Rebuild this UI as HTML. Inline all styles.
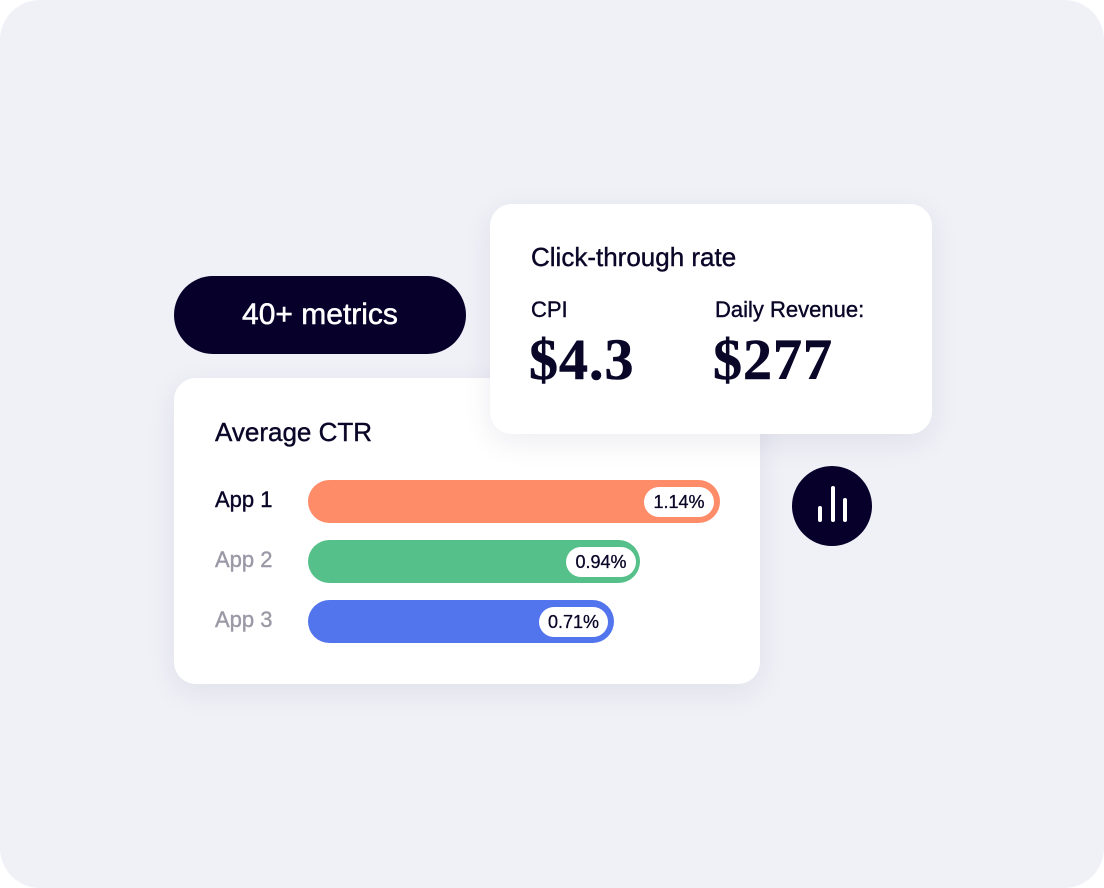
<!DOCTYPE html>
<html><head><style>
html,body{margin:0;padding:0;background:#fff;}
body{width:1104px;height:888px;position:relative;overflow:hidden;font-family:"Liberation Sans",sans-serif;color:#0a0628;}
.bg{position:absolute;left:0;top:0;width:1104px;height:888px;border-radius:40px;background:#f0f1f7;}
.pill{position:absolute;left:174px;top:276px;width:292px;height:78px;border-radius:39px;background:#06002a;color:#fff;font-size:30px;line-height:78px;text-align:center;-webkit-text-stroke:0.5px #fff;}
.card{position:absolute;background:#fff;border-radius:22px;box-shadow:0 8px 30px rgba(30,30,80,0.08);}
.t{position:absolute;white-space:nowrap;-webkit-text-stroke:0.4px currentColor;}
.bar{position:absolute;left:308px;height:43px;border-radius:22px;}
.lbl{position:absolute;top:7px;height:30px;border-radius:15px;background:#fff;font-size:18px;line-height:30px;text-align:center;color:#0a0628;-webkit-text-stroke:0.3px #0a0628;}
.app{position:absolute;left:215px;font-size:22px;-webkit-text-stroke:0.4px currentColor;}
.circ{position:absolute;left:792px;top:466px;width:80px;height:80px;border-radius:40px;background:#06002a;}
.ib{position:absolute;width:4px;background:#fff;border-radius:2px;}
.serif{font-family:"Liberation Serif","DejaVu Serif",serif;font-weight:bold;font-size:58px;letter-spacing:1px;-webkit-text-stroke:0.6px currentColor;}
</style></head><body>
<div class="bg"></div>
<div class="pill">40+ metrics</div>
<div class="card" style="left:174px;top:378px;width:586px;height:306px;"></div>
<div class="t" style="left:215px;top:417px;font-size:26px;">Average CTR</div>
<div class="app" style="top:487px;color:#0a0628;">App 1</div>
<div class="app" style="top:547px;color:#9a99a6;">App 2</div>
<div class="app" style="top:607px;color:#9a99a6;">App 3</div>
<div class="bar" style="top:480px;width:412px;background:#ff8c69;"><div class="lbl" style="left:336px;width:70px;">1.14%</div></div>
<div class="bar" style="top:540px;width:332px;background:#56c08a;"><div class="lbl" style="left:258px;width:70px;">0.94%</div></div>
<div class="bar" style="top:600px;width:306px;background:#5274ec;"><div class="lbl" style="left:231px;width:69px;">0.71%</div></div>
<div class="card" style="left:490px;top:204px;width:442px;height:230px;"></div>
<div class="t" style="left:531px;top:242px;font-size:26px;">Click-through rate</div>
<div class="t" style="left:531px;top:297px;font-size:22px;">CPI</div>
<div class="t" style="left:715px;top:297px;font-size:22px;">Daily Revenue:</div>
<div class="t serif" style="left:529px;top:326px;">$4.3</div>
<div class="t serif" style="left:713px;top:326px;">$277</div>
<div class="circ">
<div class="ib" style="left:26px;top:40px;height:16px;"></div>
<div class="ib" style="left:39px;top:20px;height:36px;"></div>
<div class="ib" style="left:51px;top:32px;height:24px;"></div>
</div>
</body></html>
